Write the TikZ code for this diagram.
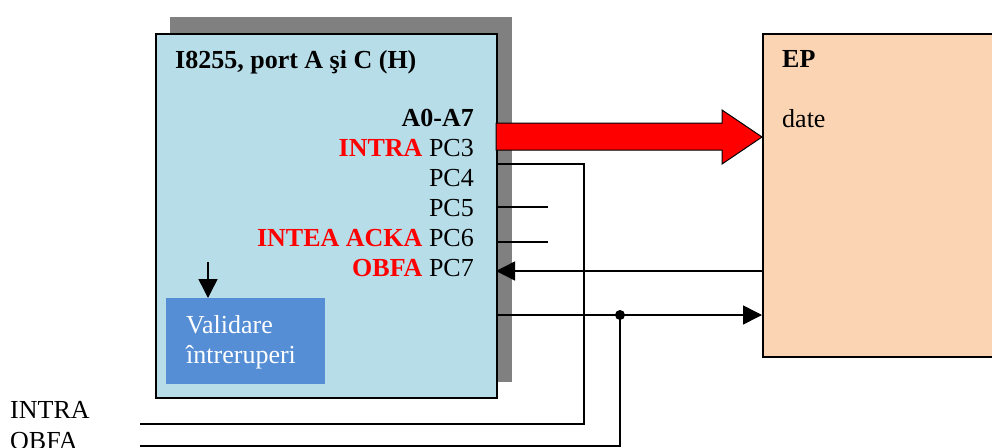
\documentclass[tikz,border=0pt]{standalone}
\usepackage{fontspec}
\setmainfont{Liberation Serif}
\usetikzlibrary{arrows.meta}
\definecolor{chipblue}{HTML}{B7DDE8}
\definecolor{shadowgray}{HTML}{808080}
\definecolor{validblue}{HTML}{558ED5}
\definecolor{epsand}{HTML}{FBD4B4}
\tikzset{
  pin/.style={anchor=base east, inner sep=0pt},
  txt/.style={anchor=base west, inner sep=0pt},
  sig/.style={line width=1.5pt},
  tip/.style={-{Triangle[length=19pt,width=19pt]}},
}
\newcommand{\red}[1]{\textcolor{red}{\textbf{#1}}}
\begin{document}
\begin{tikzpicture}[x=1pt,y=-1pt,font=\fontsize{26}{30}\selectfont]
  \useasboundingbox (0,0) rectangle (992,447);
  % blocks
  \node[fill=shadowgray, anchor=north west, minimum width=342pt, minimum height=365pt, inner sep=0pt] (shadow) at (170,17) {};
  \node[draw, line width=1.5pt, fill=chipblue, anchor=north west, minimum width=341pt, minimum height=364pt, inner sep=0pt] (chip) at (155,33) {};
  \node[draw, line width=1.5pt, fill=epsand, anchor=north west, minimum width=260pt, minimum height=323pt, inner sep=0pt] (ep) at (762,33) {};
  \node[fill=validblue, anchor=north west, minimum width=159pt, minimum height=86pt, inner sep=0pt] (valid) at (166,298) {};
  % texts
  \node[txt] (title) at (175,68) {\textbf{I8255, port A şi C (H)}};
  \node[pin] (a07) at (474,126) {\textbf{A0-A7}};
  \node[pin] (pc3) at (474,156) {\red{INTRA} PC3};
  \node[pin] (pc4) at (474,186) {PC4};
  \node[pin] (pc5) at (474,216) {PC5};
  \node[pin] (pc6) at (474,246) {\red{INTEA ACKA} PC6};
  \node[pin] (pc7) at (474,276) {\red{OBFA} PC7};
  \node[txt] (eptitle) at (782,67) {\textbf{EP}};
  \node[txt] (date) at (782,127) {date};
  \node[txt, text=white] (valid1) at (186,333) {Validare};
  \node[txt, text=white] (valid2) at (186,363) {întreruperi};
  \node[txt] (intra) at (10,418) {INTRA};
  \node[txt] (obfa) at (10,449) {OBFA};
  % pins
  \coordinate (p3) at (496,164);
  \coordinate (p5) at (496,207);
  \coordinate (p6) at (496,242);
  \coordinate (p7) at (496,271);
  \coordinate (pout) at (496,315);
  \coordinate (intraend) at (140,424);
  \coordinate (obfaend) at (140,446);
  \coordinate (joint) at (620,315);
  % data bus
  \draw[line width=1pt, fill=red] (496,123) -- (722,123) -- (722,110) -- (ep.west |- 0,137)
    -- (722,164) -- (722,150) -- (496,150) -- cycle;
  % signals
  \draw[sig] (p3) -| (584,424) -- (intraend);
  \draw[sig] (p5) -- ++(52,0);
  \draw[sig] (p6) -- ++(52,0);
  \draw[sig, tip] (ep.west |- p7) -- (p7);
  \draw[sig, tip] (pout) -- (ep.west |- pout);
  \draw[sig] (joint) |- (obfaend);
  \fill (joint) circle (5pt);
  \draw[sig, tip] (208,262) -- (valid.north -| 208,0);
\end{tikzpicture}
\end{document}
